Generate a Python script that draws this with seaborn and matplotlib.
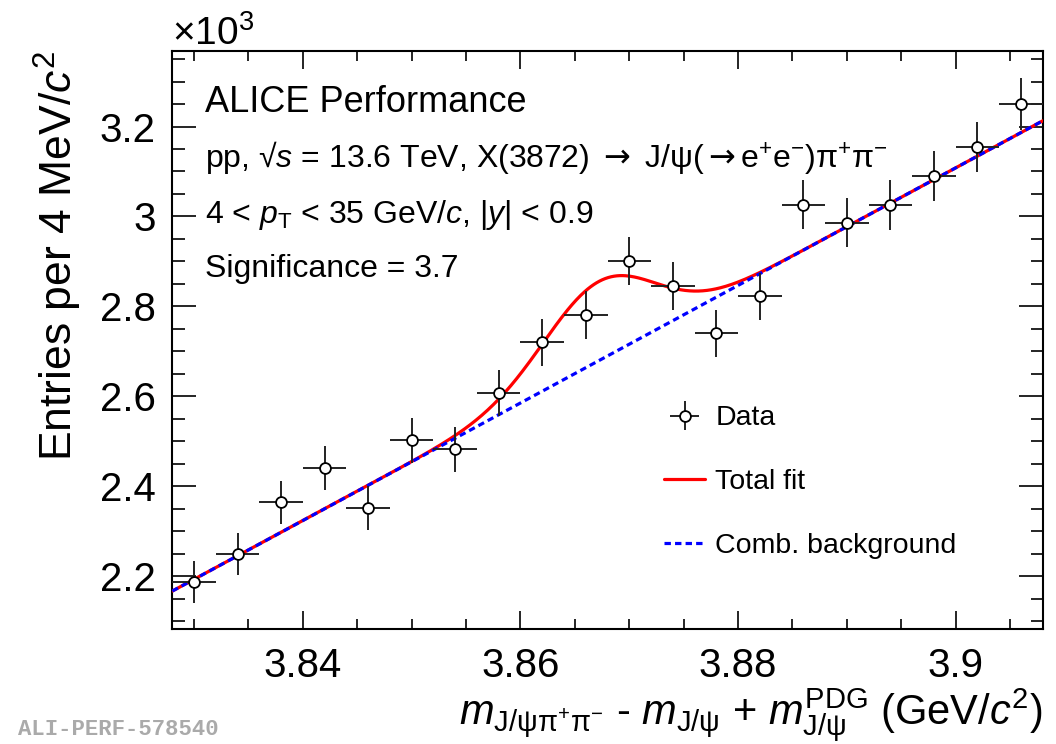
import numpy as np
import matplotlib
matplotlib.use("Agg")
import matplotlib.pyplot as plt
from matplotlib.ticker import MultipleLocator, FuncFormatter
import seaborn as sns

# bin centres (GeV/c^2), 4 MeV bins
mass = [3.830, 3.834, 3.838, 3.842, 3.846, 3.850, 3.854, 3.858, 3.862, 3.866,
        3.870, 3.874, 3.878, 3.882, 3.886, 3.890, 3.894, 3.898, 3.902, 3.906]
bin_half = 0.002
counts = [2188, 2249, 2364, 2441, 2352, 2502, 2482, 2608, 2720, 2781,
          2901, 2845, 2740, 2822, 3026, 2986, 3025, 3089, 3154, 3250]
count_err = [46.8, 47.4, 48.6, 49.4, 48.5, 50.0, 49.8, 51.1, 52.2, 52.7,
             53.9, 53.3, 52.3, 53.1, 55.0, 54.6, 55.0, 55.6, 56.2, 57.0]

# fit parameters
fit_range = (3.828, 3.908)
bkg_at_lo = 2167.0      # background at the low edge of the fit range
bkg_slope = 13070.0     # counts per GeV/c^2
sig_amp = 176.0
sig_mean = 3.8672
sig_sigma = 0.0051

scale = 1e3  # y axis shown in units of 10^3

sns.set_style("ticks")
plt.rcParams['font.family'] = ['Liberation Sans', 'DejaVu Sans']
plt.rcParams['text.color'] = 'black'
plt.rcParams['axes.labelcolor'] = 'black'
plt.rcParams['mathtext.fontset'] = 'custom'
plt.rcParams['mathtext.rm'] = 'Liberation Sans'
plt.rcParams['mathtext.it'] = 'Liberation Sans:italic'
plt.rcParams['mathtext.bf'] = 'Liberation Sans:bold'
plt.rcParams['mathtext.sf'] = 'DejaVu Sans'

fig = plt.figure(figsize=(10.56, 7.44), dpi=100)
ax = fig.add_axes([0.1632, 0.1542, 0.8242, 0.7773])

xf = np.linspace(fit_range[0], fit_range[1], 600)
bkg = bkg_at_lo + bkg_slope * (xf - fit_range[0])
total = bkg + sig_amp * np.exp(-0.5 * ((xf - sig_mean) / sig_sigma) ** 2)

sns.lineplot(x=xf, y=total / scale, ax=ax, color='#ff0000', lw=2.3,
             label='Total fit', zorder=3)
sns.lineplot(x=xf, y=bkg / scale, ax=ax, color='#0000ff', lw=2.3,
             ls=(0, (2.0, 1.3)), label='Comb. background', zorder=4)

y = np.array(counts) / scale
yerr = np.array(count_err) / scale
ax.errorbar(mass, y, xerr=bin_half, yerr=yerr, fmt='o', color='#222222',
            ecolor='#222222', elinewidth=1.4, mfc='white', mec='black',
            mew=1.3, ms=7.8, capsize=0, zorder=5, label='Data')

ax.set_xlim(*fit_range)
ax.set_ylim(2.082, 3.368)

ax.xaxis.set_major_locator(MultipleLocator(0.02))
ax.xaxis.set_minor_locator(MultipleLocator(0.005))
ax.yaxis.set_major_locator(MultipleLocator(0.2))
ax.yaxis.set_minor_locator(MultipleLocator(0.05))
fmt = FuncFormatter(lambda v, p: '%g' % round(v, 4))
ax.xaxis.set_major_formatter(fmt)
ax.yaxis.set_major_formatter(fmt)

ax.tick_params(which='both', direction='in', top=True, right=True,
               labelsize=29, width=1.2, colors='black')
ax.tick_params(axis='y', which='major', length=17, pad=12)
ax.tick_params(axis='y', which='minor', length=9)
ax.tick_params(axis='x', which='major', length=13, pad=13)
ax.tick_params(axis='x', which='minor', length=7)
for s in ax.spines.values():
    s.set_linewidth(1.5)
    s.set_color('black')

ax.set_ylabel('Entries per 4 MeV/$c^{2}$', fontsize=32, loc='top', labelpad=11)
ax.set_xlabel(r'$m_{\mathrm{J/\psi\pi^{+}\pi^{-}}}$ - $m_{\mathrm{J/\psi}}$ + '
              r'$m_{\mathrm{J/\psi}}^{\mathrm{PDG}}$ (GeV/$c^{2}$)',
              fontsize=30, loc='right', labelpad=1)

ax.text(0.0, 1.0104, '×10$^{3}$', transform=ax.transAxes, fontsize=28,
        ha='left', va='baseline')

arrow = r'$\mathsf{\rightarrow}$'
tx = 0.0376
ax.text(tx, 0.8945, 'ALICE Performance', transform=ax.transAxes, fontsize=26,
        va='baseline')
ax.text(tx, 0.7995, 'pp, √$s$ = 13.6 TeV, X(3872) ' + arrow + ' J/ψ(' + arrow +
        'e$^{+}$e$^{-}$)π$^{+}$π$^{-}$',
        transform=ax.transAxes, fontsize=23, va='baseline')
ax.text(tx, 0.7026, r'4 < $p_{\mathrm{T}}$ < 35 GeV/$c$, |$y$| < 0.9',
        transform=ax.transAxes, fontsize=23, va='baseline')
ax.text(tx, 0.609, 'Significance = 3.7', transform=ax.transAxes, fontsize=23,
        va='baseline')

handles, labels = ax.get_legend_handles_labels()
order = [labels.index('Data'), labels.index('Total fit'), labels.index('Comb. background')]
ax.legend([handles[i] for i in order], [labels[i] for i in order],
          loc='upper left', bbox_to_anchor=(0.565, 0.387), frameon=False,
          fontsize=20.5, handlelength=1.45, handletextpad=0.35,
          labelspacing=1.33, borderpad=0, borderaxespad=0, labelcolor='black')

fig.text(0.017, 0.006, 'ALI-PERF-578540', fontsize=16, color='#aaaaaa',
         family=['Liberation Mono', 'DejaVu Sans Mono'], weight='bold',
         ha='left', va='bottom')

fig.savefig('out.png', dpi=100)
